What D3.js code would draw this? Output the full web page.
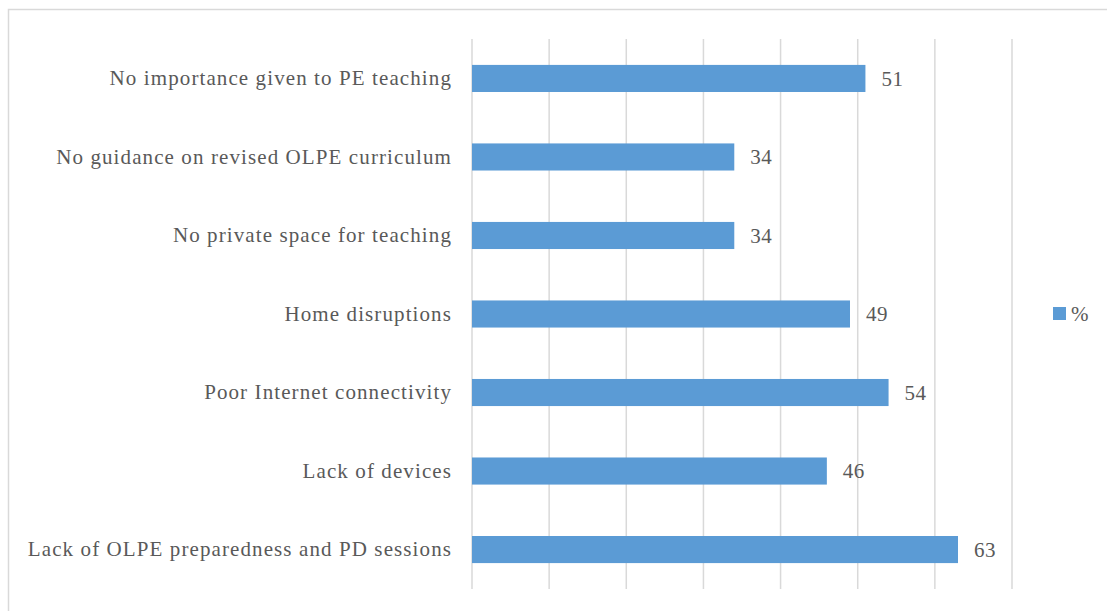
<!DOCTYPE html>
<html>
<head>
<meta charset="utf-8">
<script src="https://cdn.jsdelivr.net/npm/d3@7"></script>
<style>
  body { margin: 0; background: #fff; }
  text { font-family: "Liberation Serif", "DejaVu Serif", serif; fill: #595959; }
</style>
</head>
<body>
<div id="chart"></div>
<script>
// Data, top to bottom as shown
var categories = [
  "No importance given to PE teaching",
  "No guidance on revised OLPE curriculum",
  "No private space for teaching",
  "Home disruptions",
  "Poor Internet connectivity",
  "Lack of devices",
  "Lack of OLPE preparedness and PD sessions"
];
var values = [51, 34, 34, 49, 54, 46, 63];
var xTicks = [0, 10, 20, 30, 40, 50, 60, 70];
var seriesName = "%";

var W = 1107, H = 611;
var margin = {top: 39, right: 95, bottom: 22, left: 472};
var width = 1012 - margin.left,
    height = 589 - margin.top;

var svg = d3.select("#chart").append("svg")
  .attr("width", W)
  .attr("height", H);

// chart frame (only top/left edges visible in view)
svg.append("rect")
  .attr("x", 8.5).attr("y", 9.5)
  .attr("width", W + 20).attr("height", H + 20)
  .attr("fill", "none")
  .attr("stroke", "#d9d9d9")
  .attr("stroke-width", 1.5);

var g = svg.append("g")
  .attr("transform", "translate(" + margin.left + "," + margin.top + ")");

var x = d3.scaleLinear().domain([0, 70]).range([0, width]);
var y = d3.scaleBand().domain(categories).range([0, height]).paddingInner(0.655).paddingOuter(0.33);

// gridlines
g.selectAll(".grid")
  .data(xTicks)
  .enter().append("line")
  .attr("class", "grid")
  .attr("x1", function(d) { return x(d); })
  .attr("x2", function(d) { return x(d); })
  .attr("y1", 0)
  .attr("y2", height)
  .attr("stroke", "#d9d9d9")
  .attr("stroke-width", 1.5);

// bars
g.selectAll(".bar")
  .data(values)
  .enter().append("rect")
  .attr("class", "bar")
  .attr("x", x(0))
  .attr("y", function(d, i) { return y(categories[i]); })
  .attr("width", function(d) { return x(d) - x(0); })
  .attr("height", y.bandwidth())
  .attr("fill", "#5b9bd5");

// value labels
g.selectAll(".val")
  .data(values)
  .enter().append("text")
  .attr("class", "val")
  .attr("x", function(d) { return x(d) + 16; })
  .attr("y", function(d, i) { return y(categories[i]) + y.bandwidth() / 2; })
  .attr("dy", "0.35em")
  .style("font-size", "21px")
  .style("letter-spacing", "0.5px")
  .text(function(d) { return d; });

// category labels
var yAxis = d3.axisLeft(y).tickSize(0).tickPadding(20);
var ya = g.append("g").call(yAxis);
ya.select(".domain").remove();
ya.selectAll("text")
  .style("font-size", "21px")
  .style("letter-spacing", "1.1px")
  .style("font-family", "Liberation Serif, serif")
  .attr("fill", "#595959");

// legend
var leg = svg.append("g").attr("transform", "translate(1053,307)");
leg.append("rect").attr("width", 13).attr("height", 13).attr("fill", "#5b9bd5");
leg.append("text").attr("x", 18).attr("y", 7).attr("dy", "0.35em")
  .style("font-size", "21px").text(seriesName);
</script>
</body>
</html>
